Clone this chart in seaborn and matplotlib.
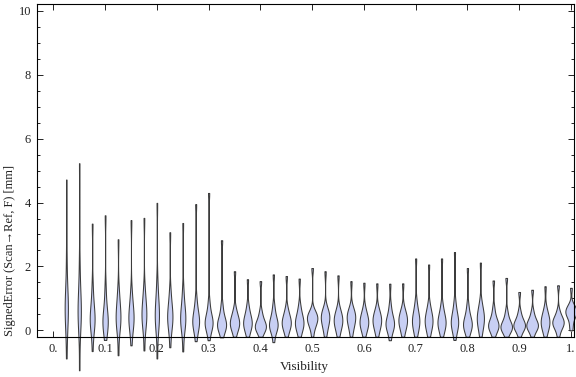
import numpy as np
import pandas as pd
import matplotlib
matplotlib.use("Agg")
import matplotlib.pyplot as plt
from matplotlib.ticker import MultipleLocator
import seaborn as sns

# visibility bins (one violin each)
visibility = [0.025, 0.05, 0.075, 0.1, 0.125, 0.15, 0.175, 0.2, 0.225, 0.25,
              0.275, 0.3, 0.325, 0.35, 0.375, 0.4, 0.425, 0.45, 0.475, 0.5,
              0.525, 0.55, 0.575, 0.6, 0.625, 0.65, 0.675, 0.7, 0.725, 0.75,
              0.775, 0.8, 0.825, 0.85, 0.875, 0.9, 0.925, 0.95, 0.975, 1.0]

# signed error samples per bin [mm] (min ... max)
signed_error = [
    [-0.88, -0.05, 0.25, 0.45, 0.6, 0.7, 0.8, 0.95, 1.2, 1.6, 2.4, 4.72],
    [-1.25, -0.05, 0.2, 0.4, 0.5, 0.6, 0.75, 0.9, 1.15, 1.5, 2.2, 5.23],
    [-0.65, 0.0, 0.12, 0.22, 0.3, 0.36, 0.45, 0.58, 0.75, 1.0, 1.45, 3.34],
    [-0.3, 0.0, 0.1, 0.18, 0.25, 0.3, 0.38, 0.5, 0.68, 0.95, 1.4, 3.60],
    [-0.78, 0.0, 0.15, 0.25, 0.33, 0.4, 0.5, 0.62, 0.8, 1.0, 1.3, 2.85],
    [-0.47, 0.02, 0.15, 0.25, 0.33, 0.4, 0.48, 0.6, 0.75, 0.95, 1.25, 3.45],
    [-0.63, 0.05, 0.2, 0.32, 0.42, 0.5, 0.58, 0.7, 0.85, 1.05, 1.35, 3.52],
    [-0.88, 0.0, 0.15, 0.3, 0.4, 0.48, 0.58, 0.72, 0.9, 1.15, 1.6, 3.99],
    [-0.53, 0.02, 0.15, 0.27, 0.36, 0.43, 0.5, 0.6, 0.75, 0.95, 1.25, 3.07],
    [-0.66, 0.0, 0.13, 0.23, 0.32, 0.38, 0.46, 0.57, 0.72, 0.95, 1.3, 3.36],
    [-0.34, 0.0, 0.1, 0.18, 0.24, 0.29, 0.35, 0.44, 0.56, 0.72, 1.0, 3.95],
    [-0.31, 0.0, 0.08, 0.15, 0.2, 0.25, 0.3, 0.37, 0.47, 0.62, 0.9, 4.30],
    [-0.22, 0.0, 0.06, 0.11, 0.15, 0.19, 0.24, 0.3, 0.4, 0.55, 0.8, 2.82],
    [-0.2, 0.0, 0.08, 0.14, 0.19, 0.23, 0.28, 0.34, 0.42, 0.52, 0.68, 1.85],
    [-0.2, 0.0, 0.08, 0.15, 0.2, 0.24, 0.29, 0.36, 0.45, 0.57, 0.78, 1.60],
    [-0.2, -0.02, 0.03, 0.07, 0.1, 0.13, 0.17, 0.23, 0.31, 0.42, 0.6, 1.54],
    [-0.37, -0.02, 0.05, 0.1, 0.14, 0.18, 0.23, 0.3, 0.4, 0.55, 0.78, 1.75],
    [-0.2, 0.0, 0.08, 0.15, 0.2, 0.24, 0.29, 0.35, 0.43, 0.54, 0.7, 1.70],
    [-0.2, 0.0, 0.08, 0.15, 0.2, 0.24, 0.29, 0.36, 0.45, 0.58, 0.78, 1.62],
    [-0.2, 0.05, 0.15, 0.23, 0.3, 0.35, 0.39, 0.43, 0.48, 0.54, 0.62, 1.95],
    [-0.2, 0.02, 0.13, 0.23, 0.31, 0.37, 0.42, 0.48, 0.54, 0.6, 0.7, 1.85],
    [-0.2, 0.0, 0.1, 0.18, 0.25, 0.3, 0.35, 0.41, 0.48, 0.57, 0.7, 1.72],
    [-0.2, 0.02, 0.13, 0.23, 0.31, 0.37, 0.42, 0.48, 0.54, 0.6, 0.7, 1.54],
    [-0.2, 0.0, 0.08, 0.15, 0.21, 0.26, 0.31, 0.37, 0.45, 0.55, 0.7, 1.49],
    [-0.2, 0.0, 0.1, 0.18, 0.25, 0.3, 0.35, 0.41, 0.48, 0.57, 0.7, 1.47],
    [-0.31, -0.02, 0.06, 0.12, 0.17, 0.21, 0.26, 0.33, 0.42, 0.56, 0.8, 1.46],
    [-0.2, 0.0, 0.1, 0.18, 0.25, 0.3, 0.35, 0.41, 0.48, 0.57, 0.7, 1.47],
    [-0.2, 0.0, 0.1, 0.18, 0.25, 0.3, 0.36, 0.43, 0.53, 0.67, 0.9, 2.25],
    [-0.2, 0.0, 0.1, 0.18, 0.25, 0.3, 0.35, 0.42, 0.51, 0.63, 0.8, 2.06],
    [-0.2, 0.0, 0.08, 0.15, 0.21, 0.26, 0.31, 0.38, 0.47, 0.6, 0.8, 2.25],
    [-0.3, 0.0, 0.08, 0.15, 0.21, 0.26, 0.32, 0.4, 0.5, 0.65, 0.9, 2.45],
    [-0.2, 0.0, 0.06, 0.12, 0.16, 0.2, 0.25, 0.32, 0.42, 0.56, 0.8, 1.95],
    [-0.2, 0.02, 0.13, 0.23, 0.31, 0.37, 0.43, 0.5, 0.59, 0.7, 0.9, 2.12],
    [-0.2, 0.0, 0.05, 0.1, 0.13, 0.16, 0.2, 0.26, 0.35, 0.48, 0.7, 1.56],
    [-0.2, -0.02, 0.02, 0.06, 0.09, 0.11, 0.15, 0.21, 0.29, 0.4, 0.6, 1.64],
    [-0.2, 0.0, 0.05, 0.1, 0.13, 0.16, 0.2, 0.25, 0.32, 0.42, 0.6, 1.20],
    [-0.2, 0.0, 0.05, 0.1, 0.13, 0.16, 0.2, 0.25, 0.32, 0.42, 0.6, 1.27],
    [-0.2, 0.0, 0.08, 0.15, 0.21, 0.26, 0.31, 0.37, 0.45, 0.55, 0.7, 1.38],
    [-0.2, 0.02, 0.1, 0.16, 0.21, 0.25, 0.28, 0.32, 0.38, 0.46, 0.62, 1.41],
    [0.0, 0.15, 0.35, 0.45, 0.51, 0.55, 0.58, 0.62, 0.67, 0.73, 0.8, 1.33],
]

x_ticks = [0.0, 0.1, 0.2, 0.3, 0.4, 0.5, 0.6, 0.7, 0.8, 0.9, 1.0]
x_tick_labels = ["0.", "0.1", "0.2", "0.3", "0.4", "0.5", "0.6", "0.7", "0.8", "0.9", "1."]
y_ticks = [0, 2, 4, 6, 8, 10]

FILL = "#c8cff4"
EDGE = "#3c3c3c"

df = pd.DataFrame({
    "Visibility": np.repeat(visibility, [len(s) for s in signed_error]),
    "SignedError": np.concatenate(signed_error),
})


def robust_bw(kde):
    # Silverman's rule with the IQR, so the long tails do not blow up the bandwidth
    x = kde.dataset[0]
    q1, q3 = np.percentile(x, [25, 75])
    sd = x.std(ddof=1)
    spread = min(sd, (q3 - q1) / 1.34)
    return 0.9 * spread * len(x) ** -0.2 / sd


sns.set_style("ticks")
plt.rcParams["font.family"] = ["Liberation Serif", "DejaVu Serif"]

fig = plt.figure(figsize=(5.76, 3.77), dpi=100)
ax = fig.add_axes([0.0634, 0.106, 0.9332, 0.883])

sns.violinplot(data=df, x="Visibility", y="SignedError", native_scale=True,
               density_norm="area", cut=0, bw_method=robust_bw, bw_adjust=1.4,
               gridsize=300, inner=None, width=0.9, color=FILL, saturation=1,
               linecolor=EDGE, linewidth=0.75, ax=ax)

for coll in ax.collections:
    coll.set_clip_on(False)

ax.set_xlim(-0.0325, 1.006)
ax.set_ylim(-0.21, 10.21)
ax.set_xticks(x_ticks)
ax.set_xticklabels(x_tick_labels)
ax.set_yticks(y_ticks)
ax.yaxis.set_minor_locator(MultipleLocator(0.5))
ax.set_xlabel("")
ax.set_ylabel("")

for side in ["left", "right", "top", "bottom"]:
    ax.spines[side].set_visible(True)
    ax.spines[side].set_linewidth(0.8)
    ax.spines[side].set_color("black")

ax.tick_params(which="both", direction="in", top=True, right=True,
               labeltop=False, labelright=False, width=0.6, color="black",
               labelsize=9, labelcolor="#222222")
ax.tick_params(which="major", length=4, pad=4)
ax.tick_params(which="minor", length=2)
ax.tick_params(axis="x", which="minor", top=False, bottom=False)

fig.text(304 / 576, 1 - 367 / 377, "Visibility", ha="center", va="center",
         fontsize=9.5, color="#222222")
fig.text(10 / 576, 1 - 250 / 377, "SignedError (Scan\u2192Ref, F) [mm]",
         rotation=90, ha="center", va="center", fontsize=9, color="#222222")

fig.savefig("out.png", dpi=100)
